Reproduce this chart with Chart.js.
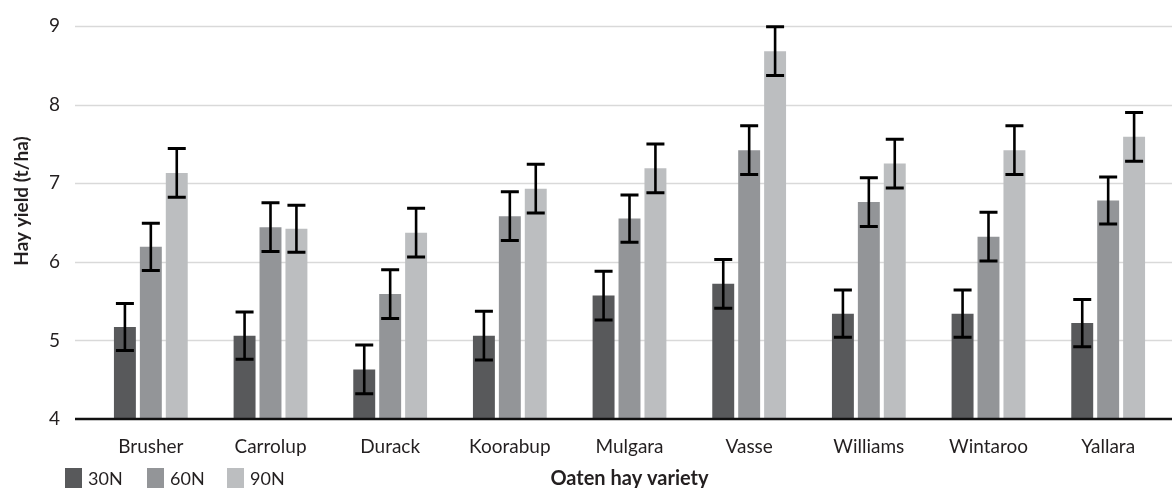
<!DOCTYPE html>
<html>
<head>
<meta charset="utf-8">
<title>Hay yield by oaten hay variety</title>
<script src="https://cdn.jsdelivr.net/npm/chart.js@4.4.1/dist/chart.umd.min.js"></script>
<style>
  html, body { margin: 0; padding: 0; background: #ffffff; }
  #wrap { width: 1172px; height: 488px; position: relative; }
</style>
</head>
<body>
<div id="wrap"><canvas id="chart" width="1172" height="488"></canvas></div>
<script>
// Oaten hay varieties and yield (t/ha) at three nitrogen rates
const varieties = ['Brusher', 'Carrolup', 'Durack', 'Koorabup', 'Mulgara', 'Vasse', 'Williams', 'Wintaroo', 'Yallara'];
const seriesNames = ['30N', '60N', '90N'];

const yield30N = [5.17, 5.06, 4.63, 5.06, 5.57, 5.72, 5.34, 5.34, 5.22];
const yield60N = [6.19, 6.44, 5.59, 6.58, 6.55, 7.42, 6.76, 6.32, 6.78];
const yield90N = [7.13, 6.42, 6.37, 6.93, 7.19, 8.68, 7.25, 7.42, 7.59];

// Half-width of each error bar (t/ha)
const err30N = [0.30, 0.30, 0.31, 0.31, 0.31, 0.31, 0.30, 0.30, 0.30];
const err60N = [0.30, 0.31, 0.31, 0.31, 0.30, 0.31, 0.31, 0.31, 0.30];
const err90N = [0.31, 0.30, 0.31, 0.31, 0.31, 0.31, 0.31, 0.31, 0.31];

const yTicks = [4, 5, 6, 7, 8, 9];

const FONT = "Lato, 'Open Sans', sans-serif";
const TEXT = '#231f20';
const colors = ['#58595b', '#939598', '#bcbec0'];

// Gridlines span from just right of the tick labels to the canvas edge
const gridPlugin = {
  id: 'yieldGrid',
  beforeDatasetsDraw(chart) {
    const { ctx, scales: { y } } = chart;
    const x0 = chart.chartArea.left - 16;
    const x1 = chart.width;
    ctx.save();
    ctx.strokeStyle = '#d9d9d9';
    ctx.lineWidth = 1.5;
    y.ticks.forEach(t => {
      if (t.value === y.min) return;
      const py = Math.round(y.getPixelForValue(t.value)) + 0.5;
      ctx.beginPath();
      ctx.moveTo(x0, py);
      ctx.lineTo(x1, py);
      ctx.stroke();
    });
    ctx.restore();
  },
  afterDatasetsDraw(chart) {
    const { ctx, scales: { y } } = chart;
    const x0 = chart.chartArea.left - 16;
    const x1 = chart.width;
    const py = y.getPixelForValue(y.min);
    ctx.save();
    ctx.strokeStyle = '#111111';
    ctx.lineWidth = 2.5;
    ctx.beginPath();
    ctx.moveTo(x0, py);
    ctx.lineTo(x1, py);
    ctx.stroke();
    ctx.restore();
  }
};

// Error bars drawn from each dataset's errors through the y scale
const errorBarPlugin = {
  id: 'errorBars',
  afterDatasetsDraw(chart) {
    const { ctx, scales: { y } } = chart;
    ctx.save();
    ctx.strokeStyle = '#000000';
    chart.data.datasets.forEach((ds, di) => {
      const meta = chart.getDatasetMeta(di);
      meta.data.forEach((bar, i) => {
        const v = ds.data[i];
        const e = ds.errors[i];
        const top = y.getPixelForValue(v + e);
        const bot = y.getPixelForValue(v - e);
        const cx = bar.x;
        const half = 9;
        ctx.lineWidth = 2.6;
        ctx.beginPath();
        ctx.moveTo(cx, top);
        ctx.lineTo(cx, bot);
        ctx.stroke();
        ctx.lineWidth = 3;
        ctx.beginPath();
        ctx.moveTo(cx - half, top);
        ctx.lineTo(cx + half, top);
        ctx.moveTo(cx - half, bot);
        ctx.lineTo(cx + half, bot);
        ctx.stroke();
      });
    });
    ctx.restore();
  }
};

// Axis titles and a legend row along the bottom
const labelsPlugin = {
  id: 'axisTitlesLegend',
  afterDraw(chart) {
    const { ctx, chartArea } = chart;
    ctx.save();
    ctx.fillStyle = TEXT;
    ctx.textAlign = 'center';
    ctx.textBaseline = 'middle';
    // y title
    ctx.font = `bold 19px ${FONT}`;
    ctx.save();
    ctx.translate(22, 201);
    ctx.rotate(-Math.PI / 2);
    ctx.fillText('Hay yield (t/ha)', 0, 0);
    ctx.restore();
    // x title
    ctx.font = `bold 20px ${FONT}`;
    ctx.fillText('Oaten hay variety', (chartArea.left + chartArea.right) / 2, 479);
    // legend
    const startX = [65, 147, 227];
    ctx.font = `18px ${FONT}`;
    ctx.textAlign = 'left';
    chart.data.datasets.forEach((ds, i) => {
      ctx.fillStyle = ds.backgroundColor;
      ctx.fillRect(startX[i], 468, 17, 22);
      ctx.fillStyle = TEXT;
      ctx.fillText(ds.label, startX[i] + 23, 479);
    });
    ctx.restore();
  }
};

const errorSets = [err30N, err60N, err90N];
const valueSets = [yield30N, yield60N, yield90N];

new Chart(document.getElementById('chart'), {
  type: 'bar',
  data: {
    labels: varieties,
    datasets: seriesNames.map((name, i) => ({
      label: name,
      data: valueSets[i],
      errors: errorSets[i],
      backgroundColor: colors[i],
      borderWidth: 0,
      categoryPercentage: 0.65,
      barPercentage: 0.846
    }))
  },
  options: {
    responsive: false,
    animation: false,
    devicePixelRatio: 1,
    layout: { padding: { top: 0, right: 4, bottom: 0, left: 0 } },
    plugins: {
      legend: { display: false },
      tooltip: { enabled: false }
    },
    scales: {
      x: {
        grid: { display: false, drawTicks: false },
        border: { display: false },
        ticks: {
          color: TEXT,
          font: { family: FONT, size: 19 },
          padding: 16,
          maxRotation: 0,
          autoSkip: false
        },
        afterFit(scale) { scale.height = 69; }
      },
      y: {
        min: 4,
        max: 9,
        afterBuildTicks(scale) { scale.ticks = yTicks.map(v => ({ value: v })); },
        grid: { display: false, drawTicks: false },
        border: { display: false },
        ticks: {
          color: TEXT,
          font: { family: FONT, size: 19 },
          padding: 31
        },
        afterFit(scale) {
          scale.width = 91;
          scale.paddingTop = 26;
          scale.paddingBottom = 0;
        }
      }
    }
  },
  plugins: [gridPlugin, errorBarPlugin, labelsPlugin]
});
</script>
</body>
</html>
